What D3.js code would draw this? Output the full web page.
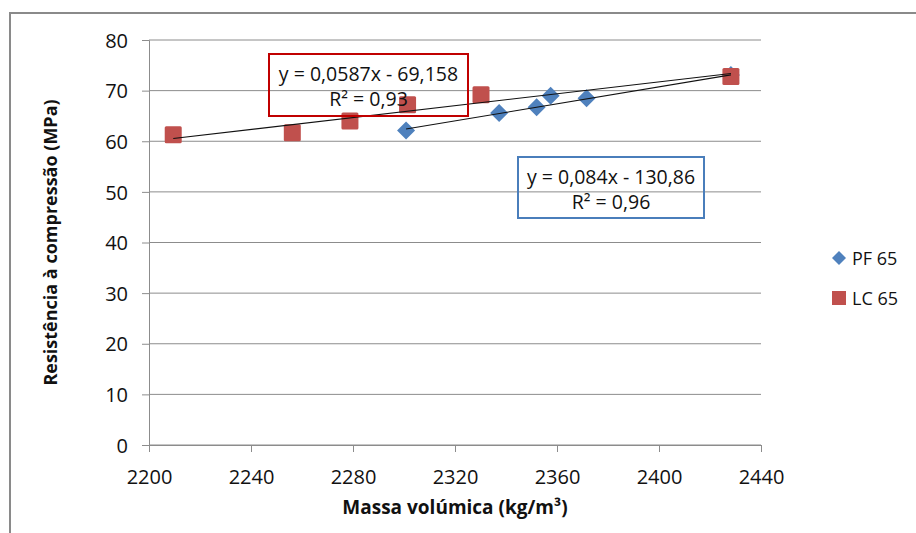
<!DOCTYPE html>
<html>
<head>
<meta charset="utf-8">
<script src="https://cdn.jsdelivr.net/npm/d3@7"></script>
<style>
  html, body { margin: 0; padding: 0; background: #fff; }
  svg { display: block; font-family: "Open Sans", "Noto Sans", sans-serif; }
</style>
</head>
<body>
<svg id="chart" width="916" height="533"></svg>
<script>
// Massa volúmica (kg/m³) vs resistência à compressão (MPa)
const pfX = [2300.8, 2337.3, 2352.0, 2357.5, 2371.6, 2428.2];
const pfY = [62.1, 65.6, 66.7, 69.0, 68.5, 73.1];
const lcX = [2209.5, 2256.2, 2278.8, 2301.4, 2330.2, 2428.2];
const lcY = [61.3, 61.7, 64.0, 67.2, 69.2, 72.8];

// Linear trendlines: slope, intercept, R²
const pfFit = [0.084, -130.86, 0.96];
const lcFit = [0.0587, -69.158, 0.93];

const xTicks = [2200, 2240, 2280, 2320, 2360, 2400, 2440];
const yTicks = [0, 10, 20, 30, 40, 50, 60, 70, 80];
const seriesNames = ["PF 65", "LC 65"];

const BLUE = "#4F81BD", RED = "#C0504D";
const INK = "#111";
const fmt = v => String(v).replace(".", ",");

const svg = d3.select("#chart");

// outer chart frame
svg.append("rect").attr("x", 10).attr("y", 13).attr("width", 920).attr("height", 540)
  .attr("fill", "none").attr("stroke", "#8a8a8a").attr("stroke-width", 2);

const L = 149, R = 761, T = 40, B = 445;
const x = d3.scaleLinear().domain([2200, 2440]).range([L, R]);
const y = d3.scaleLinear().domain([0, 80]).range([B, T]);

// horizontal gridlines
svg.append("g").selectAll("line").data(yTicks).join("line")
  .attr("x1", L).attr("x2", R)
  .attr("y1", d => y(d)).attr("y2", d => y(d))
  .attr("stroke", "#8c8c8c").attr("stroke-width", 1);

// y axis
const yAxis = svg.append("g").attr("transform", `translate(${L},0)`)
  .call(d3.axisLeft(y).tickValues(yTicks).tickSize(7).tickPadding(14));
// x axis
const xAxis = svg.append("g").attr("transform", `translate(0,${B})`)
  .call(d3.axisBottom(x).tickValues(xTicks).tickSize(7).tickPadding(18).tickFormat(d3.format("d")));
[yAxis, xAxis].forEach(g => {
  g.select(".domain").attr("stroke", "#8c8c8c").attr("stroke-width", 1);
  g.selectAll(".tick line").attr("stroke", "#8c8c8c");
  g.selectAll("text").attr("fill", INK).attr("font-size", 20)
    .attr("font-family", "'Open Sans', sans-serif");
});
yAxis.selectAll("text").attr("dy", "0.36em");

// axis titles
svg.append("text").attr("x", (L + R) / 2).attr("y", 514).attr("text-anchor", "middle")
  .attr("font-size", 19).attr("font-weight", "bold").attr("fill", INK)
  .text("Massa volúmica (kg/m³)");
svg.append("text").attr("transform", `translate(57,${(T + B) / 2}) rotate(-90)`)
  .attr("text-anchor", "middle")
  .attr("font-size", 18).attr("font-weight", "bold").attr("fill", INK)
  .text("Resistência à compressão (MPa)");

// trendlines across each series' x extent
function trend(xs, fit) {
  const [a, b] = d3.extent(xs);
  svg.append("line")
    .attr("x1", x(a)).attr("y1", y(fit[0] * a + fit[1]))
    .attr("x2", x(b)).attr("y2", y(fit[0] * b + fit[1]))
    .attr("stroke", "#111").attr("stroke-width", 1.1);
}

// markers
const sq = 17, dia = 9;
const diamondPath = (cx, cy, r) => `M${cx},${cy - r}L${cx + r},${cy}L${cx},${cy + r}L${cx - r},${cy}Z`;

svg.append("g").selectAll("path").data(pfX.map((v, i) => [v, pfY[i]])).join("path")
  .attr("d", d => diamondPath(x(d[0]), y(d[1]), dia)).attr("fill", BLUE);
svg.append("g").selectAll("rect").data(lcX.map((v, i) => [v, lcY[i]])).join("rect")
  .attr("x", d => x(d[0]) - sq / 2).attr("y", d => y(d[1]) - sq / 2)
  .attr("width", sq).attr("height", sq).attr("rx", 1.5).attr("fill", RED);

trend(lcX, lcFit);
trend(pfX, pfFit);

// equation labels
function eqBox(fit, bx, by, bw, bh, stroke) {
  const g = svg.append("g");
  g.append("rect").attr("x", bx).attr("y", by).attr("width", bw).attr("height", bh)
    .attr("fill", "none").attr("stroke", stroke).attr("stroke-width", 2);
  const sign = fit[1] < 0 ? "-" : "+";
  g.append("text").attr("x", bx + bw / 2).attr("y", by + 27).attr("text-anchor", "middle")
    .attr("font-size", 19.5).attr("fill", INK)
    .text(`y = ${fmt(fit[0])}x ${sign} ${fmt(Math.abs(fit[1]))}`);
  g.append("text").attr("x", bx + bw / 2).attr("y", by + 52).attr("text-anchor", "middle")
    .attr("font-size", 19.5).attr("fill", INK)
    .text(`R² = ${fmt(fit[2])}`);
}
eqBox(lcFit, 269, 54, 199, 62, "#C00000");
eqBox(pfFit, 518, 157, 186, 61, "#4A7EBB");

// legend
const lg = svg.append("g");
lg.append("path").attr("d", diamondPath(839, 258, 7)).attr("fill", BLUE);
lg.append("rect").attr("x", 832).attr("y", 291).attr("width", 14).attr("height", 14).attr("fill", RED);
lg.selectAll("text").data(seriesNames).join("text")
  .attr("x", 852).attr("y", (d, i) => 265 + i * 40)
  .attr("font-size", 18).attr("fill", INK).text(d => d);
</script>
</body>
</html>
